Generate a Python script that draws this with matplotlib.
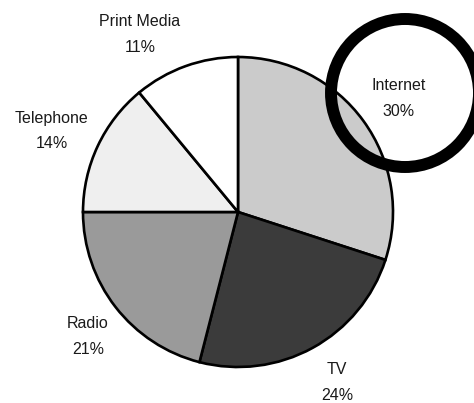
import matplotlib
matplotlib.use("Agg")
import matplotlib.pyplot as plt
from matplotlib.patches import Circle

categories = ["Internet", "TV", "Radio", "Telephone", "Print Media"]
values = [30, 24, 21, 14, 11]

colors = ["#cbcbcb", "#3b3b3b", "#9a9a9a", "#efefef", "#ffffff"]
W, H = 474, 403
fig = plt.figure(figsize=(W / 100, H / 100), dpi=100)
ax = fig.add_axes([0, 0, 1, 1])
ax.set_xlim(0, W)
ax.set_ylim(0, H)
ax.set_aspect("equal")
ax.axis("off")

cx, cy, r = 238, H - 212, 155
ax.pie(values, colors=colors, startangle=90, counterclock=False,
       center=(cx, cy), radius=r, frame=True,
       wedgeprops=dict(edgecolor="black", linewidth=1.9))
ax.set_xlim(0, W)
ax.set_ylim(0, H)
ax.axis("off")

label_pos = {
    "Internet": (399, 86),
    "TV": (337, 369),
    "Radio": (88, 323),
    "Telephone": (52, 118),
    "Print Media": (140, 21),
}
for cat, v in zip(categories, values):
    x, y = label_pos[cat]
    ax.text(x, H - y, cat, ha="center", va="center", fontsize=11.5,
            family="Liberation Sans", color="#1a1a1a", zorder=5)
    ax.text(x, H - y - 26, f"{v}%", ha="center", va="center", fontsize=11.5,
            family="Liberation Sans", color="#1a1a1a", zorder=5)

ax.add_patch(Circle((405, H - 93), 74, fill=False, edgecolor="black",
                    linewidth=8.6, zorder=4, clip_on=False))

fig.savefig("out.png", dpi=100)
